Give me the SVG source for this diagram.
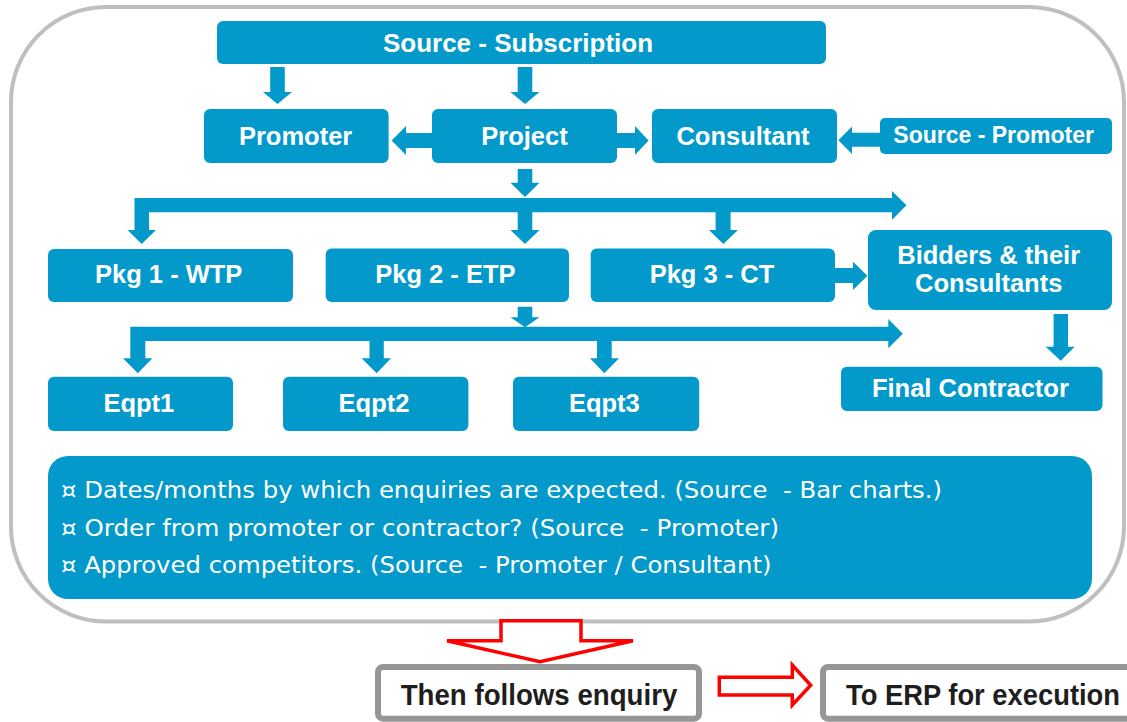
<svg xmlns="http://www.w3.org/2000/svg" width="1127" height="722" viewBox="0 0 1127 722">
  <style>
    .box { fill: #0399cb; }
    .arrow { fill: #0399cb; }
    .lbl { font-family: "Liberation Sans", Arial, sans-serif; font-weight: bold; fill: #ffffff; text-anchor: middle; font-size: 25.5px; }
    .note { font-family: "DejaVu Sans", Verdana, sans-serif; fill: #ffffff; font-size: 23.5px; }
    .out { fill: #ffffff; stroke: #969696; stroke-width: 6; }
    .outlbl { font-family: "Liberation Sans", Arial, sans-serif; font-weight: bold; fill: #1e1e1e; font-size: 29px; }
    .red { fill: #ffffff; stroke: #ff0000; stroke-width: 3.5; stroke-linejoin: miter; }
  </style>

  <!-- outer frame -->
  <rect id="frame" x="11" y="7" width="1113" height="614.5" rx="95" ry="95" fill="#ffffff" stroke="#bfbfbf" stroke-width="4"/>

  <!-- connectors -->
  <g id="connectors" class="arrow">
    <!-- Source - Subscription to Promoter / Project -->
    <polygon points="270.2,67 284.8,67 284.8,92 292,92 277.5,104 263,92 270.2,92"/>
    <polygon points="517.7,67 532.3,67 532.3,92 539.5,92 525,104 510.5,92 517.7,92"/>
    <!-- Project to Promoter -->
    <polygon points="432,133 406,133 406,126 391.6,140.5 406,155 406,148 432,148"/>
    <!-- Project to Consultant -->
    <polygon points="617,133 635,133 635,126 648.6,140.5 635,155 635,148 617,148"/>
    <!-- Source - Promoter to Consultant -->
    <polygon points="880,132.7 852,132.7 852,126.5 838.4,140.2 852,154 852,146.7 880,146.7"/>
    <!-- Project down to package bus -->
    <polygon points="517.7,169 532.3,169 532.3,182.7 539.5,182.7 525,197 510.5,182.7 517.7,182.7"/>
    <!-- package bus with left drop -->
    <polygon points="134.5,198 892,198 892,191 906.4,205.2 892,220 892,212.3 149,212.3 149,230 156,230 141.7,244 127.5,230 134.5,230"/>
    <polygon points="517.7,212 532.3,212 532.3,230 539.5,230 525,244 510.5,230 517.7,230"/>
    <polygon points="715.6,212 730.6,212 730.6,230 738,230 723.3,244 709,230 715.6,230"/>
    <!-- Pkg 3 to Bidders -->
    <polygon points="835,268 853,268 853,261.7 867.4,275.8 853,290 853,283 835,283"/>
    <!-- Bidders to Final Contractor -->
    <polygon points="1053.6,314 1068,314 1068,346.7 1074.6,346.7 1060.8,360.7 1045.6,346.7 1053.6,346.7"/>
    <!-- Pkg 2 down to equipment bus -->
    <polygon points="517.7,306.7 532.3,306.7 532.3,317.3 539.5,317.3 525,327.3 510.5,317.3 517.7,317.3"/>
    <!-- equipment bus with left drop -->
    <polygon points="130.3,326.7 888.3,326.7 888.3,319 902.8,333.8 888.3,348.3 888.3,341 145.3,341 145.3,358.3 152.4,358.3 137.8,373.3 123,358.3 130.3,358.3"/>
    <polygon points="369.5,340 383.8,340 383.8,358.3 391,358.3 376.7,373.3 361.6,358.3 369.5,358.3"/>
    <polygon points="597,340 611.7,340 611.7,358.3 619,358.3 604.3,373.3 590,358.3 597,358.3"/>
  </g>

  <g id="n-subscription">
    <rect class="box" x="217" y="21" width="609" height="43" rx="6"/>
    <text class="lbl" x="518" y="51.5" style="font-size:26px">Source - Subscription</text>
  </g>
  <g id="n-promoter">
    <rect class="box" x="204" y="109" width="184.6" height="54" rx="6"/>
    <text class="lbl" x="295.6" y="145">Promoter</text>
  </g>
  <g id="n-project">
    <rect class="box" x="432" y="109" width="185" height="54" rx="6"/>
    <text class="lbl" x="524.5" y="145">Project</text>
  </g>
  <g id="n-consultant">
    <rect class="box" x="652" y="109" width="185" height="54" rx="6"/>
    <text class="lbl" x="743" y="145">Consultant</text>
  </g>
  <g id="n-src-promoter">
    <rect class="box" x="880" y="118" width="232" height="36" rx="5"/>
    <text class="lbl" x="993.7" y="142.5" style="font-size:23px">Source - Promoter</text>
  </g>

  <g id="n-pkg1">
    <rect class="box" x="48" y="249" width="245" height="53" rx="6"/>
    <text class="lbl" x="168.7" y="283">Pkg 1 - WTP</text>
  </g>
  <g id="n-pkg2">
    <rect class="box" x="325.7" y="248.5" width="243.3" height="53.5" rx="6"/>
    <text class="lbl" x="445.4" y="283">Pkg 2 - ETP</text>
  </g>
  <g id="n-pkg3">
    <rect class="box" x="590.7" y="248.5" width="244.3" height="53.5" rx="6"/>
    <text class="lbl" x="712" y="283">Pkg 3 - CT</text>
  </g>
  <g id="n-bidders">
    <rect class="box" x="868" y="230" width="244" height="80" rx="8"/>
    <text class="lbl" x="988.7" y="264.3">Bidders &amp; their</text>
    <text class="lbl" x="988.7" y="291.7">Consultants</text>
  </g>
  <g id="n-final">
    <rect class="box" x="841" y="366.7" width="261.5" height="44.3" rx="6"/>
    <text class="lbl" x="970.4" y="396.7">Final Contractor</text>
  </g>

  <g id="n-eqpt1">
    <rect class="box" x="48" y="376.7" width="185" height="54.3" rx="6"/>
    <text class="lbl" x="138.8" y="411.7">Eqpt1</text>
  </g>
  <g id="n-eqpt2">
    <rect class="box" x="283" y="376.7" width="185.4" height="54.3" rx="6"/>
    <text class="lbl" x="374" y="411.7">Eqpt2</text>
  </g>
  <g id="n-eqpt3">
    <rect class="box" x="513" y="376.7" width="186.2" height="54.3" rx="6"/>
    <text class="lbl" x="604.3" y="411.7">Eqpt3</text>
  </g>

  <g id="n-notes">
    <rect class="box" x="48" y="456" width="1044" height="143" rx="20"/>
    <text class="note" x="61" y="498" xml:space="preserve" textLength="881" lengthAdjust="spacingAndGlyphs">¤ Dates/months by which enquiries are expected. (Source  - Bar charts.)</text>
    <text class="note" x="61" y="535.5" xml:space="preserve" textLength="718" lengthAdjust="spacingAndGlyphs">¤ Order from promoter or contractor? (Source  - Promoter)</text>
    <text class="note" x="61" y="572.5" xml:space="preserve" textLength="710.5" lengthAdjust="spacingAndGlyphs">¤ Approved competitors. (Source  - Promoter / Consultant)</text>
  </g>

  <!-- flow out of the frame -->
  <polygon id="down-red" class="red" points="501,620.7 581,620.7 581,640.7 633,640.7 540,661.7 447,640.7 501,640.7"/>

  <g id="n-enquiry">
    <rect class="out" x="378" y="667" width="321" height="51.7" rx="5"/>
    <text class="outlbl" x="400.7" y="705" textLength="276.6" lengthAdjust="spacingAndGlyphs">Then follows enquiry</text>
  </g>

  <polygon id="right-red" class="red" points="719.3,677.3 792.3,677.3 792.3,665 810.7,685.3 792.3,705 792.3,695 719.3,695"/>

  <g id="n-erp">
    <rect class="out" x="823" y="667" width="330" height="51.7" rx="5"/>
    <text class="outlbl" x="846" y="705" textLength="274" lengthAdjust="spacingAndGlyphs">To ERP for execution</text>
  </g>
</svg>
